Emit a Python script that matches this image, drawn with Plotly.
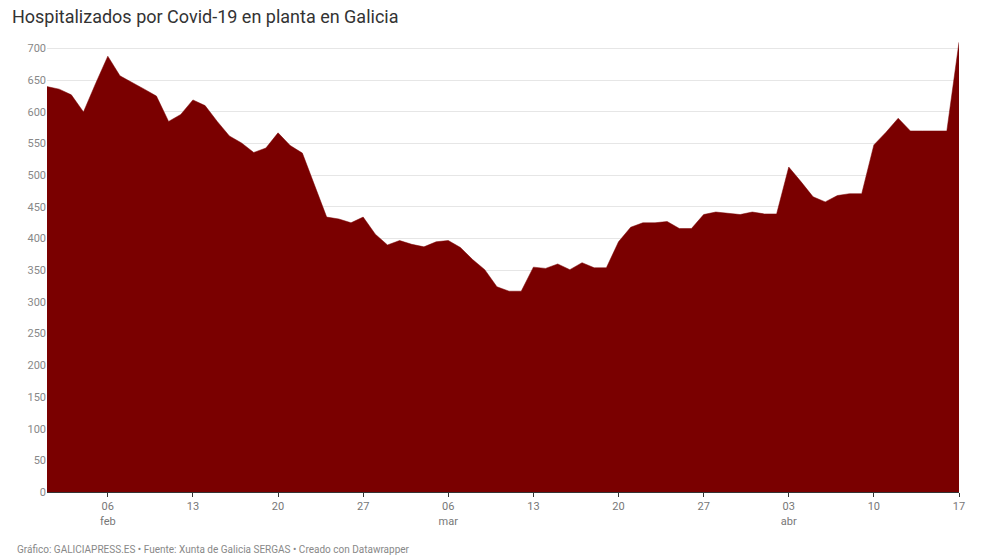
import plotly.graph_objects as go
import pandas as pd

dates = pd.date_range("2022-02-01", "2022-04-17", freq="D")
values = [640,636,627,600,645,688,657,647,636,625,585,596,619,610,585,562,551,536,543,567,547,535,485,434,431,425,434,407,
          390,397,391,387,395,397,386,367,351,324,317,317,355,353,360,351,362,354,354,395,418,425,425,427,416,416,438,442,440,438,442,
          439,439,513,490,466,458,468,471,471,548,568,590,570,570,570,570,710]
tick_dates = ["2022-02-06","2022-02-13","2022-02-20","2022-02-27","2022-03-06","2022-03-13","2022-03-20","2022-03-27","2022-04-03","2022-04-10","2022-04-17"]
tick_text = ["06<br>feb","13","20","27","06<br>mar","13","20","27","03<br>abr","10","17"]

fig = go.Figure(go.Scatter(x=dates, y=values, mode="lines", fill="tozeroy",
                           line=dict(color="#7a0000", width=0.5), fillcolor="#7a0000",
                           hoverinfo="x+y"))
fig.update_layout(
    width=981, height=560, plot_bgcolor="white", paper_bgcolor="white",
    margin=dict(l=39, r=30, t=33, b=76),
    font=dict(family="Roboto, Arial, sans-serif", color="#777", size=11),
    title=dict(text="Hospitalizados por Covid-19 en planta en Galicia", x=0.004, xanchor="left",
               y=0.995, yanchor="top", font=dict(size=18, color="#333")),
    showlegend=False,
    annotations=[dict(text="Gráfico: GALICIAPRESS.ES • Fuente: Xunta de Galicia SERGAS • Creado con Datawrapper",
                      xref="paper", yref="paper", x=-0.035, y=-0.11, xanchor="left", yanchor="top",
                      showarrow=False, font=dict(size=10, color="#888"))],
)
fig.update_xaxes(range=[dates[0], dates[-1]], tickvals=tick_dates, ticktext=tick_text,
                 showgrid=False, showline=True, linecolor="#333", ticks="outside", ticklen=4,
                 tickcolor="#333", tickfont=dict(size=11, color="#777"))
fig.update_yaxes(range=[0, 712], tickvals=list(range(0, 701, 50)), showgrid=True,
                 gridcolor="#e6e6e6", zeroline=False, ticks="", tickfont=dict(size=11, color="#888"))
fig.write_html("out.html")
